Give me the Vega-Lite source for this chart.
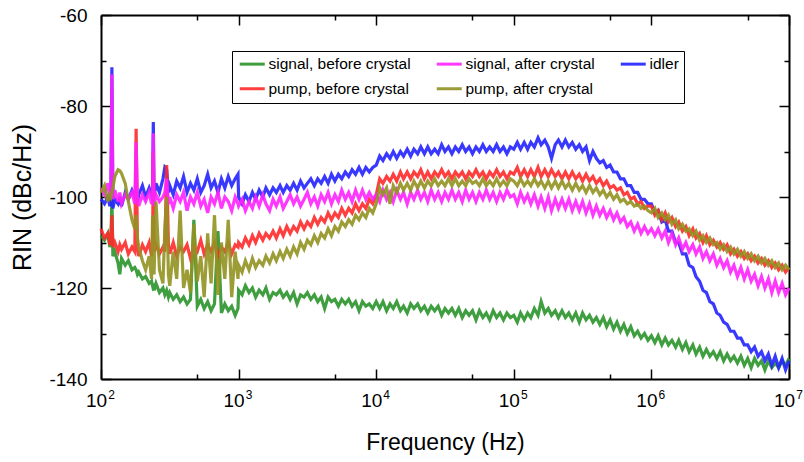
{
"$schema": "https://vega.github.io/schema/vega-lite/v6.json",
"width": 688, "height": 364,
"autosize": {"type": "none"},
"padding": {"left": 101, "top": 15, "right": 15, "bottom": 83},
"background": "white",
"config": {"view": {"stroke": null}, "axis": {"grid": false, "labelFont": "Liberation Sans", "titleFont": "Liberation Sans", "labelColor": "black", "titleColor": "black", "tickColor": "black", "domainColor": "black", "titleFontWeight": "normal"}},
"data": {"values": [
{"f":100,"g":-108.5,"r":-107,"o":-99,"b":-100.5,"m":-98},
{"f":106,"g":-109.5,"r":-109,"o":-97.5,"b":-101.5,"m":-99.5},
{"f":112,"g":-108,"r":-108,"o":-101,"b":-100,"m":-97},
{"f":116,"g":-111,"r":-110.5,"o":-99.5,"b":-102,"m":-100},
{"f":118,"g":-110,"r":-109.5,"o":-100,"b":-101,"m":-99},
{"f":120,"g":-100,"r":-104,"o":-99,"b":-71.5,"m":-73},
{"f":122,"g":-113,"r":-111,"o":-98,"b":-102.5,"m":-100.5},
{"f":126,"g":-112,"r":-110,"o":-95.5,"b":-100.5,"m":-98.5},
{"f":133,"g":-114.5,"r":-112,"o":-94,"b":-101.5,"m":-101},
{"f":137,"g":-117,"r":-110.5,"o":-94.2,"b":-100,"m":-99},
{"f":141,"g":-113.5,"r":-111.5,"o":-94.8,"b":-102,"m":-101.5},
{"f":150,"g":-115,"r":-110,"o":-97,"b":-99,"m":-99.5},
{"f":158,"g":-114,"r":-112.5,"o":-101,"b":-100.5,"m":-100.5},
{"f":168,"g":-116,"r":-111,"o":-105,"b":-98.5,"m":-99},
{"f":176,"g":-115.5,"r":-112,"o":-107,"b":-100,"m":-101.5},
{"f":180,"g":-116,"r":-85,"o":-104,"b":-99,"m":-88},
{"f":184,"g":-117,"r":-111,"o":-109,"b":-101,"m":-100},
{"f":188,"g":-116.5,"r":-113,"o":-111,"b":-99.5,"m":-102},
{"f":200,"g":-118,"r":-110.5,"o":-114,"b":-97.5,"m":-99.5},
{"f":211,"g":-117.5,"r":-112,"o":-116,"b":-100,"m":-101},
{"f":224,"g":-119,"r":-110,"o":-113,"b":-98,"m":-99},
{"f":233,"g":-118.5,"r":-113,"o":-118,"b":-99.5,"m":-101.5},
{"f":237,"g":-119.5,"r":-111,"o":-104,"b":-98.5,"m":-100},
{"f":240,"g":-119,"r":-90,"o":-110,"b":-83.5,"m":-86},
{"f":243,"g":-120.5,"r":-112,"o":-117,"b":-100,"m":-102},
{"f":251,"g":-119,"r":-110.5,"o":-101,"b":-97,"m":-99.5},
{"f":266,"g":-121,"r":-112.5,"o":-116,"b":-99,"m":-101},
{"f":282,"g":-120,"r":-111,"o":-119,"b":-96,"m":-100},
{"f":291,"g":-121.5,"r":-112,"o":-107,"b":-93.5,"m":-99},
{"f":300,"g":-120.5,"r":-93,"o":-100,"b":-94,"m":-96},
{"f":309,"g":-122,"r":-110.5,"o":-117,"b":-99,"m":-101.5},
{"f":316,"g":-121,"r":-112.5,"o":-119.5,"b":-97.5,"m":-100},
{"f":335,"g":-122.5,"r":-110,"o":-112,"b":-99.5,"m":-102.5},
{"f":355,"g":-121.5,"r":-113,"o":-118,"b":-96.5,"m":-99.5},
{"f":376,"g":-123,"r":-111,"o":-103,"b":-98,"m":-101},
{"f":398,"g":-122,"r":-112,"o":-120,"b":-95.5,"m":-99},
{"f":422,"g":-123.5,"r":-110.5,"o":-116,"b":-99,"m":-103},
{"f":447,"g":-122.5,"r":-113.5,"o":-121,"b":-97,"m":-100},
{"f":473,"g":-105,"r":-111,"o":-106,"b":-98.5,"m":-101.5},
{"f":501,"g":-124,"r":-112,"o":-118.5,"b":-96,"m":-99},
{"f":531,"g":-122.5,"r":-109.5,"o":-113,"b":-99,"m":-102},
{"f":562,"g":-124.5,"r":-112.5,"o":-122,"b":-97.5,"m":-100.5},
{"f":596,"g":-123,"r":-110.5,"o":-108,"b":-95,"m":-103.5},
{"f":631,"g":-125,"r":-112,"o":-119,"b":-98,"m":-100},
{"f":668,"g":-123.5,"r":-110,"o":-104,"b":-96.5,"m":-101.5},
{"f":708,"g":-107.5,"r":-113,"o":-121.5,"b":-99,"m":-99},
{"f":750,"g":-125.5,"r":-111,"o":-110,"b":-96,"m":-102.5},
{"f":794,"g":-123.5,"r":-112,"o":-118,"b":-98,"m":-100},
{"f":841,"g":-125,"r":-110,"o":-105,"b":-95.5,"m":-101},
{"f":891,"g":-124,"r":-112.5,"o":-122,"b":-97.5,"m":-103},
{"f":944,"g":-126,"r":-110.5,"o":-112,"b":-96,"m":-100},
{"f":990,"g":-124.5,"r":-111,"o":-118,"b":-95,"m":-101.5},
{"f":1000,"g":-120.5,"r":-110,"o":-115,"b":-100,"m":-102},
{"f":1060,"g":-121.5,"r":-111,"o":-116.5,"b":-101.5,"m":-100.5},
{"f":1120,"g":-119.5,"r":-109,"o":-114,"b":-99.5,"m":-103},
{"f":1190,"g":-121,"r":-110.5,"o":-116,"b":-101,"m":-101},
{"f":1260,"g":-120,"r":-108.5,"o":-113.5,"b":-99,"m":-102.5},
{"f":1330,"g":-122,"r":-110,"o":-115.5,"b":-100.5,"m":-100},
{"f":1410,"g":-120.5,"r":-108,"o":-114,"b":-98.5,"m":-102},
{"f":1500,"g":-121.5,"r":-109.5,"o":-115,"b":-100,"m":-99.5},
{"f":1580,"g":-120,"r":-108,"o":-113,"b":-98,"m":-101.5},
{"f":1680,"g":-122.5,"r":-109,"o":-114.5,"b":-99.5,"m":-103},
{"f":1780,"g":-121,"r":-107.5,"o":-112.5,"b":-98,"m":-100.5},
{"f":1880,"g":-121.5,"r":-109,"o":-114,"b":-99,"m":-102},
{"f":2000,"g":-120.5,"r":-107,"o":-112,"b":-97.5,"m":-100},
{"f":2110,"g":-122,"r":-108.5,"o":-113.5,"b":-99,"m":-102.5},
{"f":2240,"g":-121,"r":-106.5,"o":-111.5,"b":-97.5,"m":-101},
{"f":2370,"g":-122.5,"r":-108,"o":-113,"b":-98.5,"m":-99.5},
{"f":2510,"g":-121,"r":-106.5,"o":-111,"b":-97,"m":-101.5},
{"f":2660,"g":-123.5,"r":-107.5,"o":-112.5,"b":-98.5,"m":-100},
{"f":2820,"g":-121.5,"r":-105.5,"o":-110,"b":-96.5,"m":-102},
{"f":2990,"g":-122,"r":-107,"o":-111.5,"b":-98,"m":-100.5},
{"f":3160,"g":-121,"r":-105.5,"o":-109.5,"b":-97,"m":-99},
{"f":3350,"g":-122.5,"r":-106.5,"o":-110.5,"b":-96,"m":-101.5},
{"f":3550,"g":-121.5,"r":-104.5,"o":-108.5,"b":-97.5,"m":-100},
{"f":3760,"g":-123,"r":-106,"o":-110,"b":-96,"m":-102},
{"f":3980,"g":-122,"r":-104.5,"o":-108,"b":-97,"m":-99.5},
{"f":4220,"g":-124.5,"r":-105.5,"o":-109,"b":-95.5,"m":-101},
{"f":4470,"g":-122,"r":-103.5,"o":-107,"b":-97,"m":-99},
{"f":4730,"g":-123,"r":-105,"o":-108.5,"b":-95,"m":-101.5},
{"f":5010,"g":-122.5,"r":-103.5,"o":-106.5,"b":-96.5,"m":-99.5},
{"f":5310,"g":-124,"r":-104.5,"o":-107.5,"b":-95,"m":-101},
{"f":5620,"g":-122.5,"r":-102.5,"o":-105.5,"b":-96,"m":-98.5},
{"f":5960,"g":-123.5,"r":-104,"o":-106.5,"b":-94.5,"m":-100.5},
{"f":6310,"g":-122.5,"r":-102.5,"o":-105,"b":-95.5,"m":-99},
{"f":6680,"g":-124,"r":-103.5,"o":-106,"b":-94,"m":-101},
{"f":7080,"g":-123,"r":-101.5,"o":-104,"b":-95,"m":-98.5},
{"f":7500,"g":-125,"r":-103,"o":-105,"b":-93.5,"m":-100.5},
{"f":7940,"g":-123,"r":-101.5,"o":-103.5,"b":-95,"m":-98.5},
{"f":8410,"g":-124,"r":-102.5,"o":-104.5,"b":-93.5,"m":-100.5},
{"f":8910,"g":-123.5,"r":-100.5,"o":-102.5,"b":-94.5,"m":-99},
{"f":9440,"g":-124.5,"r":-101.5,"o":-103.5,"b":-93.5,"m":-100.5},
{"f":10000,"g":-123,"r":-99.5,"o":-101.5,"b":-93,"m":-99.5},
{"f":10600,"g":-124.5,"r":-96,"o":-98,"b":-91,"m":-101},
{"f":11200,"g":-123,"r":-97,"o":-99.5,"b":-92,"m":-98.5},
{"f":11900,"g":-125,"r":-95.5,"o":-98,"b":-90.5,"m":-100.5},
{"f":12600,"g":-123.5,"r":-96.5,"o":-101.5,"b":-91.5,"m":-99},
{"f":13300,"g":-124.5,"r":-95,"o":-97.5,"b":-90,"m":-101},
{"f":14100,"g":-123,"r":-96.5,"o":-99,"b":-91.5,"m":-98.5},
{"f":15000,"g":-125,"r":-94.5,"o":-97,"b":-90,"m":-100.5},
{"f":15800,"g":-124,"r":-96,"o":-98.5,"b":-91,"m":-99},
{"f":16800,"g":-125.5,"r":-94.5,"o":-97,"b":-89.5,"m":-101.5},
{"f":17800,"g":-123.5,"r":-96,"o":-98.5,"b":-91,"m":-99},
{"f":18800,"g":-124.5,"r":-94.5,"o":-96.5,"b":-89.5,"m":-100.5},
{"f":20000,"g":-123.5,"r":-95.5,"o":-98,"b":-90.5,"m":-98.5},
{"f":21100,"g":-125,"r":-94,"o":-96.5,"b":-89,"m":-100.5},
{"f":22400,"g":-124,"r":-96,"o":-98,"b":-90.5,"m":-99},
{"f":23700,"g":-125.5,"r":-94.5,"o":-96.5,"b":-89,"m":-101},
{"f":25100,"g":-124,"r":-96,"o":-97.5,"b":-90.5,"m":-98.5},
{"f":26600,"g":-125,"r":-94.5,"o":-96,"b":-89.5,"m":-100.5},
{"f":28200,"g":-124,"r":-95.5,"o":-97.5,"b":-90.5,"m":-99},
{"f":29900,"g":-126,"r":-94,"o":-96.5,"b":-88.5,"m":-101},
{"f":31600,"g":-124.5,"r":-95.5,"o":-97.5,"b":-90,"m":-99},
{"f":33500,"g":-125.5,"r":-94.5,"o":-96,"b":-89,"m":-100.5},
{"f":35500,"g":-124.5,"r":-96,"o":-97.5,"b":-90.5,"m":-98.5},
{"f":37600,"g":-126,"r":-94.5,"o":-96,"b":-89,"m":-100.5},
{"f":39800,"g":-124.5,"r":-95.5,"o":-97.5,"b":-90,"m":-99},
{"f":42200,"g":-126.5,"r":-94.5,"o":-96.5,"b":-88.5,"m":-101},
{"f":44700,"g":-125,"r":-96,"o":-97.5,"b":-90,"m":-98.5},
{"f":47300,"g":-126,"r":-94.5,"o":-96,"b":-89,"m":-100.5},
{"f":50100,"g":-125,"r":-95.5,"o":-97,"b":-90.5,"m":-99},
{"f":53100,"g":-127,"r":-94,"o":-96.5,"b":-89,"m":-101},
{"f":56200,"g":-125,"r":-95.5,"o":-97.5,"b":-90,"m":-99},
{"f":59600,"g":-126.5,"r":-94.5,"o":-96,"b":-88.5,"m":-100.5},
{"f":63100,"g":-125.5,"r":-96,"o":-97.5,"b":-90,"m":-98.5},
{"f":66800,"g":-127,"r":-94.5,"o":-96.5,"b":-89,"m":-100.5},
{"f":70800,"g":-125,"r":-95.5,"o":-97.5,"b":-90,"m":-99},
{"f":75000,"g":-126.5,"r":-94,"o":-96,"b":-88.5,"m":-101},
{"f":79400,"g":-125.5,"r":-95.5,"o":-97.5,"b":-90,"m":-99},
{"f":84100,"g":-127,"r":-94.5,"o":-96.5,"b":-89,"m":-100.5},
{"f":89100,"g":-125.5,"r":-96,"o":-97.5,"b":-90.5,"m":-98.5},
{"f":94400,"g":-126.5,"r":-94.5,"o":-96,"b":-89,"m":-100},
{"f":100000,"g":-126,"r":-95,"o":-96.5,"b":-89.5,"m":-99.5},
{"f":106000,"g":-127.5,"r":-93.5,"o":-97.5,"b":-88,"m":-101.5},
{"f":112000,"g":-125.5,"r":-95.5,"o":-96,"b":-89.5,"m":-99},
{"f":119000,"g":-127,"r":-94,"o":-97.5,"b":-88,"m":-101},
{"f":126000,"g":-125.5,"r":-95.5,"o":-96.5,"b":-89.5,"m":-99.5},
{"f":133000,"g":-126.5,"r":-94,"o":-97.5,"b":-88,"m":-101.5},
{"f":141000,"g":-124.5,"r":-95.5,"o":-96,"b":-89,"m":-99.5},
{"f":150000,"g":-126,"r":-93.5,"o":-97.5,"b":-87,"m":-102},
{"f":158000,"g":-123,"r":-95.5,"o":-96.5,"b":-88.5,"m":-100},
{"f":168000,"g":-125.5,"r":-94,"o":-98,"b":-87.5,"m":-102.5},
{"f":178000,"g":-124.5,"r":-95.5,"o":-96.5,"b":-89,"m":-100},
{"f":188000,"g":-126,"r":-94,"o":-98,"b":-91.5,"m":-103},
{"f":200000,"g":-125,"r":-95.5,"o":-96.5,"b":-88.5,"m":-100.5},
{"f":211000,"g":-126.5,"r":-94.5,"o":-98,"b":-87.5,"m":-102.5},
{"f":224000,"g":-125,"r":-96,"o":-96.5,"b":-89,"m":-100.5},
{"f":237000,"g":-126.5,"r":-94.5,"o":-98,"b":-87.5,"m":-102.5},
{"f":251000,"g":-125.5,"r":-96,"o":-97,"b":-89,"m":-100.5},
{"f":266000,"g":-127,"r":-94.5,"o":-98.5,"b":-88,"m":-103},
{"f":282000,"g":-125.5,"r":-96,"o":-97,"b":-89.5,"m":-101},
{"f":299000,"g":-127.5,"r":-95,"o":-98.5,"b":-88.5,"m":-103},
{"f":316000,"g":-125.5,"r":-96.5,"o":-97.5,"b":-90,"m":-101},
{"f":335000,"g":-127,"r":-95,"o":-99,"b":-89,"m":-103.5},
{"f":355000,"g":-126,"r":-96.5,"o":-97.5,"b":-92,"m":-101.5},
{"f":376000,"g":-127.5,"r":-95.5,"o":-99,"b":-90,"m":-104},
{"f":398000,"g":-126.5,"r":-97,"o":-98,"b":-91.5,"m":-102},
{"f":422000,"g":-128,"r":-96,"o":-99.5,"b":-92.5,"m":-104},
{"f":447000,"g":-126.5,"r":-97.5,"o":-98.5,"b":-92,"m":-102.5},
{"f":473000,"g":-128.5,"r":-96.5,"o":-100,"b":-93.5,"m":-104.5},
{"f":501000,"g":-127,"r":-98,"o":-99,"b":-93,"m":-103},
{"f":531000,"g":-129,"r":-97.5,"o":-100.5,"b":-94.5,"m":-105},
{"f":562000,"g":-127.5,"r":-98.5,"o":-99.5,"b":-94.5,"m":-103.5},
{"f":596000,"g":-129.5,"r":-98,"o":-101,"b":-96,"m":-105.5},
{"f":631000,"g":-128,"r":-99.5,"o":-100.5,"b":-96,"m":-104.5},
{"f":668000,"g":-130,"r":-99,"o":-101.5,"b":-97.5,"m":-106.5},
{"f":708000,"g":-128.5,"r":-100.5,"o":-101,"b":-97.5,"m":-105.5},
{"f":750000,"g":-130.5,"r":-100,"o":-102,"b":-99,"m":-107.5},
{"f":794000,"g":-129.5,"r":-101.5,"o":-101.5,"b":-99,"m":-106},
{"f":841000,"g":-131,"r":-101,"o":-102.5,"b":-100.5,"m":-108},
{"f":891000,"g":-130,"r":-102.5,"o":-102,"b":-100.5,"m":-106.5},
{"f":944000,"g":-131.5,"r":-102,"o":-103,"b":-101.5,"m":-108},
{"f":1000000,"g":-130.5,"r":-102,"o":-103.5,"b":-101.5,"m":-107},
{"f":1060000,"g":-132,"r":-104,"o":-102.5,"b":-103.5,"m":-108.5},
{"f":1120000,"g":-130.5,"r":-103,"o":-104.5,"b":-103,"m":-107},
{"f":1190000,"g":-132.5,"r":-105,"o":-103.5,"b":-105.5,"m":-109},
{"f":1260000,"g":-131,"r":-103.5,"o":-105,"b":-105,"m":-107.5},
{"f":1330000,"g":-132.5,"r":-105.5,"o":-104,"b":-107.5,"m":-110},
{"f":1410000,"g":-131.5,"r":-104.5,"o":-106,"b":-107.5,"m":-108},
{"f":1500000,"g":-133,"r":-106.5,"o":-105,"b":-110,"m":-110.5},
{"f":1580000,"g":-131.5,"r":-105.5,"o":-107,"b":-110,"m":-109},
{"f":1680000,"g":-133.5,"r":-107.5,"o":-106,"b":-112.5,"m":-111.5},
{"f":1780000,"g":-132,"r":-106.5,"o":-107.5,"b":-112.5,"m":-110},
{"f":1880000,"g":-134,"r":-108.5,"o":-107,"b":-115,"m":-112},
{"f":2000000,"g":-132.5,"r":-107,"o":-108.5,"b":-115.5,"m":-110.5},
{"f":2110000,"g":-134.5,"r":-109,"o":-107.5,"b":-117.5,"m":-112.5},
{"f":2240000,"g":-133,"r":-108,"o":-109.5,"b":-118.5,"m":-111},
{"f":2370000,"g":-135,"r":-110,"o":-108.5,"b":-120.5,"m":-113.5},
{"f":2510000,"g":-133.5,"r":-108.5,"o":-110,"b":-121,"m":-112},
{"f":2660000,"g":-135,"r":-110.5,"o":-109,"b":-123,"m":-114},
{"f":2820000,"g":-134,"r":-109.5,"o":-110.5,"b":-123.5,"m":-112.5},
{"f":2990000,"g":-135.5,"r":-111,"o":-110,"b":-125.5,"m":-115},
{"f":3160000,"g":-134,"r":-110,"o":-111.5,"b":-126,"m":-113.5},
{"f":3350000,"g":-136,"r":-111.5,"o":-110.5,"b":-127.5,"m":-115.5},
{"f":3550000,"g":-134.5,"r":-110.5,"o":-112,"b":-128,"m":-114},
{"f":3760000,"g":-136,"r":-112.5,"o":-111,"b":-129.5,"m":-116.5},
{"f":3980000,"g":-135,"r":-111.5,"o":-112.5,"b":-129.5,"m":-115},
{"f":4220000,"g":-136.5,"r":-113,"o":-111.5,"b":-131,"m":-117.5},
{"f":4470000,"g":-135,"r":-112,"o":-113,"b":-131,"m":-115.5},
{"f":4730000,"g":-137,"r":-113.5,"o":-112,"b":-132.5,"m":-118},
{"f":5010000,"g":-135.5,"r":-112.5,"o":-113.5,"b":-132.5,"m":-116},
{"f":5310000,"g":-137.5,"r":-114,"o":-112.5,"b":-134,"m":-118.5},
{"f":5620000,"g":-135.5,"r":-113,"o":-114,"b":-133,"m":-117},
{"f":5960000,"g":-137,"r":-114.5,"o":-113,"b":-135,"m":-119.5},
{"f":6310000,"g":-136,"r":-113.5,"o":-114.5,"b":-134,"m":-117.5},
{"f":6680000,"g":-138,"r":-115,"o":-113.5,"b":-136,"m":-120},
{"f":7080000,"g":-136,"r":-114,"o":-115,"b":-134.5,"m":-118},
{"f":7500000,"g":-137.5,"r":-115.5,"o":-114,"b":-137,"m":-121},
{"f":7940000,"g":-136.5,"r":-114.5,"o":-115.5,"b":-135,"m":-118.5},
{"f":8410000,"g":-137.5,"r":-116,"o":-114.5,"b":-137.5,"m":-121},
{"f":8910000,"g":-136,"r":-115,"o":-116,"b":-135.5,"m":-119},
{"f":9440000,"g":-137,"r":-116.5,"o":-115,"b":-138,"m":-121.5},
{"f":10000000,"g":-135.5,"r":-115.5,"o":-116,"b":-136,"m":-120}
]},
"layer": [
{"transform": [{"fold": ["g","m","b","r","o"], "as": ["s","v"]}, {"filter": "datum.s == 'g'"}],
 "mark": {"type": "line", "strokeWidth": 3.2, "opacity": 0.9},
 "encoding": {
  "x": {"field": "f", "type": "quantitative", "scale": {"type": "log", "domain": [100, 10000000], "nice": false}, "axis": null},
  "y": {"field": "v", "type": "quantitative", "scale": {"domain": [-140, -60], "nice": false, "zero": false}, "axis": null},
  "color": {"field": "s", "type": "nominal", "scale": {"domain": ["g","m","b","r","o"], "range": ["#2a932a","#ff22ff","#2222ff","#ff2a2a","#929222"]},
   "legend": {"orient": "none", "direction": "horizontal", "legendX": 131, "legendY": 36, "columns": 3, "title": null, "symbolType": "M-1,0H4", "symbolSize": 100, "symbolStrokeWidth": 3, "labelFont": "Liberation Sans", "labelFontSize": 15.5, "labelColor": "black", "labelOffset": 16, "labelLimit": 300, "columnPadding": 19, "rowPadding": 8, "padding": 5, "strokeColor": "black", "fillColor": "white",
    "labelExpr": "datum.label == 'g' ? 'signal, before crystal' : datum.label == 'm' ? 'signal, after crystal' : datum.label == 'b' ? 'idler' : datum.label == 'r' ? 'pump, before crystal' : 'pump, after crystal'"}}
 }},
{"transform": [{"fold": ["g","m","b","r","o"], "as": ["s","v"]}, {"filter": "datum.s == 'b'"}],
 "mark": {"type": "line", "strokeWidth": 3.2, "opacity": 0.9},
 "encoding": {
  "x": {"field": "f", "type": "quantitative", "scale": {"type": "log", "domain": [100, 10000000], "nice": false}, "axis": null},
  "y": {"field": "v", "type": "quantitative", "scale": {"domain": [-140, -60], "nice": false, "zero": false}, "axis": null},
  "color": {"field": "s", "type": "nominal", "legend": null}
 }},
{"transform": [{"fold": ["g","m","b","r","o"], "as": ["s","v"]}, {"filter": "datum.s == 'r'"}],
 "mark": {"type": "line", "strokeWidth": 3.2, "opacity": 0.9},
 "encoding": {
  "x": {"field": "f", "type": "quantitative", "scale": {"type": "log", "domain": [100, 10000000], "nice": false}, "axis": null},
  "y": {"field": "v", "type": "quantitative", "scale": {"domain": [-140, -60], "nice": false, "zero": false}, "axis": null},
  "color": {"field": "s", "type": "nominal", "legend": null}
 }},
{"transform": [{"fold": ["g","m","b","r","o"], "as": ["s","v"]}, {"filter": "datum.s == 'm'"}],
 "mark": {"type": "line", "strokeWidth": 3.2, "opacity": 0.9},
 "encoding": {
  "x": {"field": "f", "type": "quantitative", "scale": {"type": "log", "domain": [100, 10000000], "nice": false}, "axis": null},
  "y": {"field": "v", "type": "quantitative", "scale": {"domain": [-140, -60], "nice": false, "zero": false}, "axis": null},
  "color": {"field": "s", "type": "nominal", "legend": null}
 }},
{"transform": [{"fold": ["g","m","b","r","o"], "as": ["s","v"]}, {"filter": "datum.s == 'o'"}],
 "mark": {"type": "line", "strokeWidth": 3.2, "opacity": 0.9},
 "encoding": {
  "x": {"field": "f", "type": "quantitative", "scale": {"type": "log", "domain": [100, 10000000], "nice": false}, "axis": null},
  "y": {"field": "v", "type": "quantitative", "scale": {"domain": [-140, -60], "nice": false, "zero": false}, "axis": null},
  "color": {"field": "s", "type": "nominal", "legend": null}
 }},
{"data": {"values": [{"f": 1000, "v": -100}]},
 "mark": {"type": "point", "opacity": 0},
 "encoding": {
  "x": {"field": "f", "type": "quantitative", "scale": {"type": "log", "domain": [100, 10000000], "nice": false},
   "axis": {"orient": "bottom", "values": [100, 1000, 10000, 100000, 1000000, 10000000], "tickSize": -10, "tickWidth": 1.5, "domainWidth": 2, "labelExpr": "'10'", "labelFontSize": 19, "labelPadding": 22, "labelOffset": -5, "labelOverlap": false, "labelFlush": false, "labelBound": false, "title": "Frequency (Hz)", "titleFontSize": 23, "titleX": 344, "titleY": 70, "titleBaseline": "alphabetic", "titleAlign": "center"}},
  "y": {"field": "v", "type": "quantitative", "scale": {"domain": [-140, -60], "nice": false, "zero": false},
   "axis": {"orient": "left", "values": [-140, -120, -100, -80, -60], "tickSize": -10, "tickWidth": 1.5, "domainWidth": 2, "labelExpr": "'' + datum.value", "labelFontSize": 19, "labelPadding": 24, "labelOverlap": false, "labelFlush": false, "labelBound": false, "title": "RIN (dBc/Hz)", "titleFontSize": 25, "titleX": -79, "titleY": 182, "titleAngle": -90, "titleAlign": "center", "titleBaseline": "middle"}}
 }},
{"data": {"values": [{"f": 1000, "v": -100}]},
 "mark": {"type": "point", "opacity": 0},
 "encoding": {
  "x": {"field": "f", "type": "quantitative", "scale": {"type": "log", "domain": [100, 10000000], "nice": false},
   "axis": {"orient": "top", "values": [100, 1000, 10000, 100000, 1000000, 10000000], "tickSize": -10, "tickWidth": 1.5, "domainWidth": 2, "labels": false, "title": null}},
  "y": {"field": "v", "type": "quantitative", "scale": {"domain": [-140, -60], "nice": false, "zero": false},
   "axis": {"orient": "right", "values": [-140, -120, -100, -80, -60], "tickSize": -10, "tickWidth": 1.5, "domainWidth": 2, "labels": false, "title": null}}
 }},
{"data": {"values": [{"f": 1000, "v": -100}]},
 "mark": {"type": "point", "opacity": 0},
 "encoding": {
  "x": {"field": "f", "type": "quantitative", "scale": {"type": "log", "domain": [100, 10000000], "nice": false},
   "axis": {"orient": "bottom", "values": [500, 5000, 50000, 500000, 5000000], "tickSize": -5, "tickWidth": 1.5, "domain": false, "labels": false, "title": null}},
  "y": {"field": "v", "type": "quantitative", "scale": {"domain": [-140, -60], "nice": false, "zero": false},
   "axis": {"orient": "left", "values": [-130, -110, -90, -70], "tickSize": -5, "tickWidth": 1.5, "domain": false, "labels": false, "title": null}}
 }},
{"data": {"values": [{"f": 1000, "v": -100}]},
 "mark": {"type": "point", "opacity": 0},
 "encoding": {
  "x": {"field": "f", "type": "quantitative", "scale": {"type": "log", "domain": [100, 10000000], "nice": false},
   "axis": {"orient": "top", "values": [500, 5000, 50000, 500000, 5000000], "tickSize": -5, "tickWidth": 1.5, "domain": false, "labels": false, "title": null}},
  "y": {"field": "v", "type": "quantitative", "scale": {"domain": [-140, -60], "nice": false, "zero": false},
   "axis": {"orient": "right", "values": [-130, -110, -90, -70], "tickSize": -5, "tickWidth": 1.5, "domain": false, "labels": false, "title": null}}
 }},
{"data": {"values": [{"f": 1000, "v": -100}]},
 "mark": {"type": "point", "opacity": 0},
 "encoding": {
  "x": {"field": "f", "type": "quantitative", "scale": {"type": "log", "domain": [100, 10000000], "nice": false},
   "axis": {"orient": "bottom", "values": [100, 1000, 10000, 100000, 1000000, 10000000], "ticks": false, "domain": false, "labelExpr": "'' + round(log(datum.value) / LN10)", "labelFontSize": 12, "labelPadding": 10, "labelOffset": 10, "labelOverlap": false, "labelFlush": false, "labelBound": false, "title": null}},
  "y": {"field": "v", "type": "quantitative", "scale": {"domain": [-140, -60], "nice": false, "zero": false}, "axis": null}
 }}
],
"resolve": {"axis": {"x": "independent", "y": "independent"}}
}
